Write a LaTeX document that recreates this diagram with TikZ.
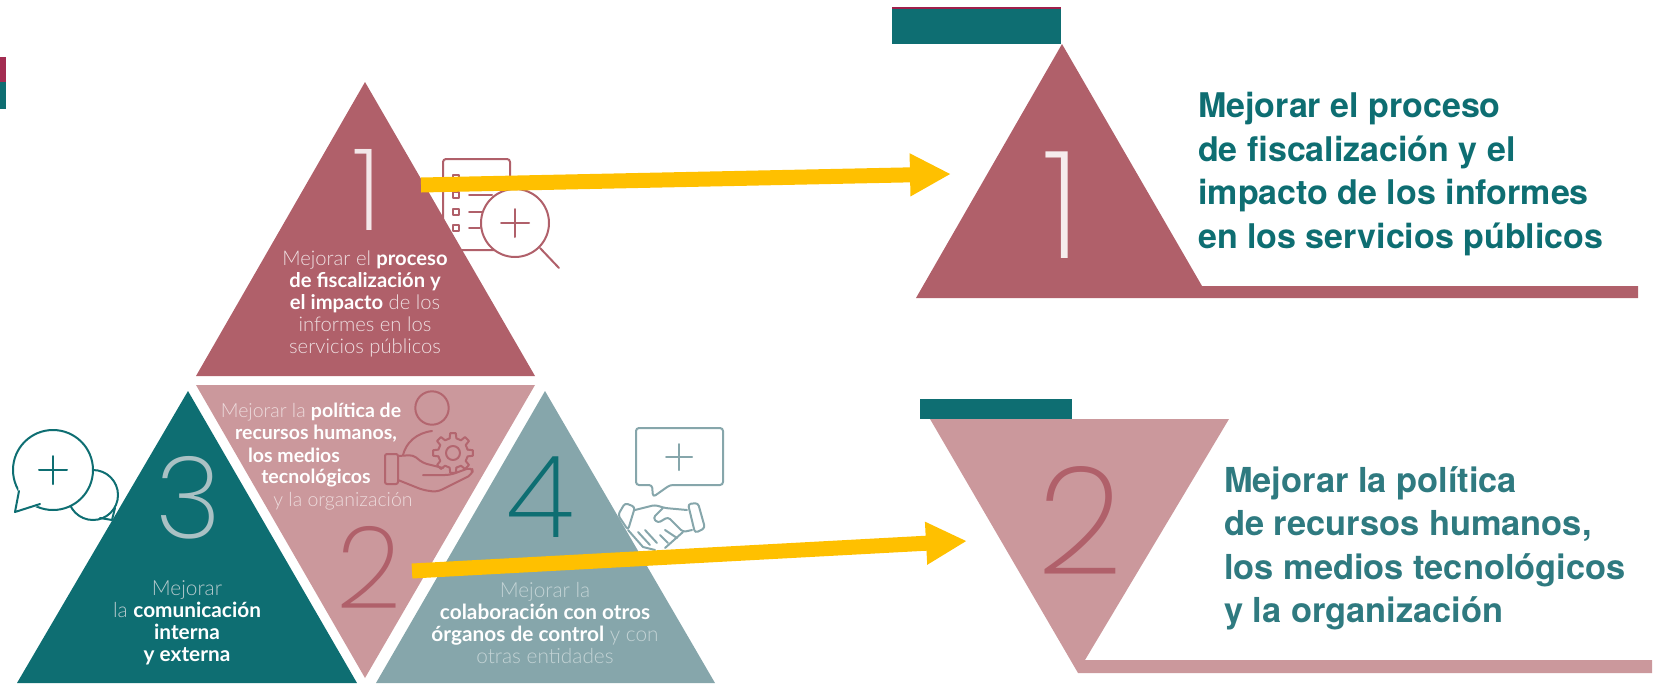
\documentclass[tikz,border=0pt]{standalone}
\usepackage{fontspec}
\setmainfont{Lato Light}[BoldFont={Lato Bold}]
\newfontfamily\headfont{TeX Gyre Heros}
\newfontfamily\digitfont{Poppins ExtraLight}
\usetikzlibrary{arrows.meta,calc,positioning}
\definecolor{rosedark}{HTML}{B0606A}
\definecolor{roselight}{HTML}{CB989C}
\definecolor{tealdark}{HTML}{0E6E72}
\definecolor{tealsoft}{HTML}{86A6AB}
\definecolor{tealtext}{HTML}{2F7A80}
\definecolor{barmagenta}{HTML}{A01F4B}
\definecolor{arrowgold}{HTML}{FFC000}
\tikzset{
  digit/.style={inner sep=0pt,font=\digitfont\fontsize{114}{114}\selectfont},
  bigdigit/.style={inner sep=0pt,font=\digitfont\fontsize{150}{150}\selectfont},
  blurb/.style={inner sep=0pt,align=center,font=\fontsize{#1}{22}\selectfont},
  lineblurb/.style={inner sep=0pt,anchor=base,font=\fontsize{19.5}{22}\selectfont},
  headline/.style={inner sep=0pt,anchor=north west,align=left,font=\headfont\bfseries\fontsize{#1}{43.5}\selectfont},
  goldarrow/.style={draw=arrowgold,line width=15pt,-{Triangle[length=41pt,width=40pt]}},
  icon/.style={line width=2pt,line cap=round,line join=round}
}
\newcommand{\drawplus}[3]{% x, y, half size
  \draw (#1,#2) ++(-#3,0) -- ++({2*#3},0);
  \draw (#1,#2) ++(0,-#3) -- ++(0,{2*#3});
}
\begin{document}
\begin{tikzpicture}[x=1pt,y=-1pt]
  \useasboundingbox (0,0) rectangle (1656,683);

  % Left marks
  \fill[barmagenta!80!rosedark] (0,57) rectangle (6,82);
  \fill[tealdark] (0,82) rectangle (6,109);

  % Icon: checklist and magnifier
  \begin{scope}[icon,draw=rosedark]
    \draw[rounded corners=3pt] (443,159) rectangle (510,250);
    \foreach \y in {178,195,212,228} {
      \draw (453,\y-3) rectangle (459,\y+3);
    }
    \draw (469,195) -- (492,195);
    \draw (469,212) -- (482,212);
    \draw (469,228) -- (480,228);
    \fill[white] (515,223) circle (34);
    \draw (515,223) circle (34);
    \draw (540,248) -- (559,268);
    \drawplus{515}{223}{14}
  \end{scope}

  % Icon: two bubbles
  \begin{scope}[icon,draw=tealdark]
    \draw (93,495) circle (25);
    \draw (100,518) -- (112,520) -- (115,508);
    \fill[white] (53,470) circle (40);
    \draw (53,470) circle (40);
    \fill[white] (19,485) -- (15,512) -- (42,505) -- cycle;
    \draw (19,491) -- (15,512) -- (40,504);
    \drawplus{53}{470}{14}
  \end{scope}

  % Icon: box and handshake
  \begin{scope}[icon,draw=tealsoft]
    \draw[rounded corners=3pt] (652,485) -- (636,485) -- (636,428) -- (723,428) -- (723,485) -- (670,485) -- (653,497) -- cycle;
    \drawplus{679}{457}{13}
    \draw[rounded corners=3pt] (625,503) -- (635,507) -- (628,530) -- (618,515) -- cycle;
    \draw[rounded corners=3pt] (688,504) -- (698,503) -- (705,528) -- (695,533) -- cycle;
    \draw[rounded corners=3pt] (635,510) -- (655,505) -- (665,508) -- (687,510);
    \draw[rounded corners=3pt] (663,508) -- (653,518) -- (658,523) -- (668,517) -- (683,532) -- (692,530);
    \draw (683,532) -- (665,548);
    \draw (628,530) -- (643,547) -- (655,550);
    \draw (638,532) -- (650,545);
    \draw (645,530) -- (657,543);
    \draw (665,530) -- (677,538);
    \draw (660,535) -- (668,543);
  \end{scope}

  % Left triangles
  \fill[rosedark] (365,82) -- (535,376) -- (196,376) -- cycle;
  \fill[roselight] (196,385) -- (535,385) -- (365,678) -- cycle;
  \fill[tealdark] (188,391) -- (357,683) -- (17,683) -- cycle;
  \fill[tealsoft] (545,391) -- (715,683) -- (376,683) -- cycle;

  % Icon: person with gear
  \begin{scope}[icon,draw=rosedark!90!roselight]
    \draw (432,408) circle (16.7);
    \draw (432,431) .. controls (416,433) and (406,443) .. (403,455);
    \draw[rounded corners=2pt] (385,454) rectangle (398,484);
    \draw[rounded corners=4pt] (398,456) -- (413,455) -- (423,463) -- (443,468);
    \draw[rounded corners=5pt] (423,475) -- (450,475) -- (472,467) -- (473,474) -- (437,492) -- (423,490) -- (398,480);
    \begin{scope}[shift={(453,453)}]
      \draw (0,0) circle (7);
      \foreach \a in {0,45,...,315} {
        \draw (\a-13:15) -- (\a-8:20) -- (\a+8:20) -- (\a+13:15) -- (\a+32:15);
      }
    \end{scope}
  \end{scope}

  % Triangle 1
  \node[digit,text=rosedark!15!white] (numa) at (367,190) {1};
  \node[blurb=20.2,text=rosedark!20!white] (blurba) at (365,304)
    {Mejorar el \textbf{\color{white}proceso}\\
     \textbf{\color{white}de fiscalización y}\\
     \textbf{\color{white}el impacto} de los\\
     informes en los\\
     servicios públicos};

  % Triangle 2
  \node[digit,text=rosedark] (numb) at (369,567) {2};
  \node[lineblurb,text=roselight!35!white] (lineba) at (311,417) {Mejorar la \textbf{\color{white}política de}};
  \node[lineblurb,text=white] (linebb) at (316,439) {\textbf{recursos humanos,}};
  \node[lineblurb,text=white] (linebc) at (294,462) {\textbf{los medios}};
  \node[lineblurb,text=white] (linebd) at (316,483) {\textbf{tecnológicos}};
  \node[lineblurb,text=roselight!35!white] (linebe) at (343,506) {y la organización};

  % Triangle 3
  \node[digit,text=tealsoft!70!white] (numc) at (189,498) {3};
  \node[blurb=20.8,text=tealsoft!60!white] (blurbc) at (187,623)
    {Mejorar\\
     la \textbf{\color{white}comunicación}\\
     \textbf{\color{white}interna}\\
     \textbf{\color{white}y externa}};

  % Triangle 4
  \node[digit,text=tealdark] (numd) at (540,497) {4};
  \node[blurb=20.8,text=tealsoft!50!white] (blurbd) at (545,623)
    {Mejorar la\\
     \textbf{\color{white}colaboración con otros}\\
     \textbf{\color{white}órganos de control} y con\\
     otras entidades};

  % Card 1
  \fill[tealdark] (892,7) rectangle (1061,44);
  \fill[barmagenta] (892,7) rectangle (1061,9);
  \fill[rosedark] (1062,44) -- (1202,286) -- (1638,286) -- (1638,298) -- (916,298) -- cycle;
  \node[bigdigit,text=rosedark!12!white] (cardnuma) at (1062,205) {1};
  \node[headline=34,text=tealdark] (cardtexta) at (1198,92)
    {Mejorar el proceso\\ de fiscalización y el\\ impacto de los informes\\ en los servicios públicos};

  % Card 2
  \fill[tealdark] (920,399) rectangle (1072,419);
  \fill[roselight] (930,419) -- (1229,419) -- (1085,660) -- (1652,660) -- (1652,673) -- (1078,673) -- cycle;
  \node[bigdigit,text=rosedark] (cardnumb) at (1080,520) {2};
  \node[headline=34.4,text=tealtext] (cardtextb) at (1224,466)
    {Mejorar la política\\ de recursos humanos,\\ los medios tecnológicos\\ y la organización};

  % Arrows
  \coordinate (fromone) at (421,185);
  \coordinate (toone) at (951,174);
  \coordinate (fromtwo) at (412,571);
  \coordinate (totwo) at (967,541);
  \draw[goldarrow] (fromone) -- (toone);
  \draw[goldarrow] (fromtwo) -- (totwo);
\end{tikzpicture}
\end{document}
